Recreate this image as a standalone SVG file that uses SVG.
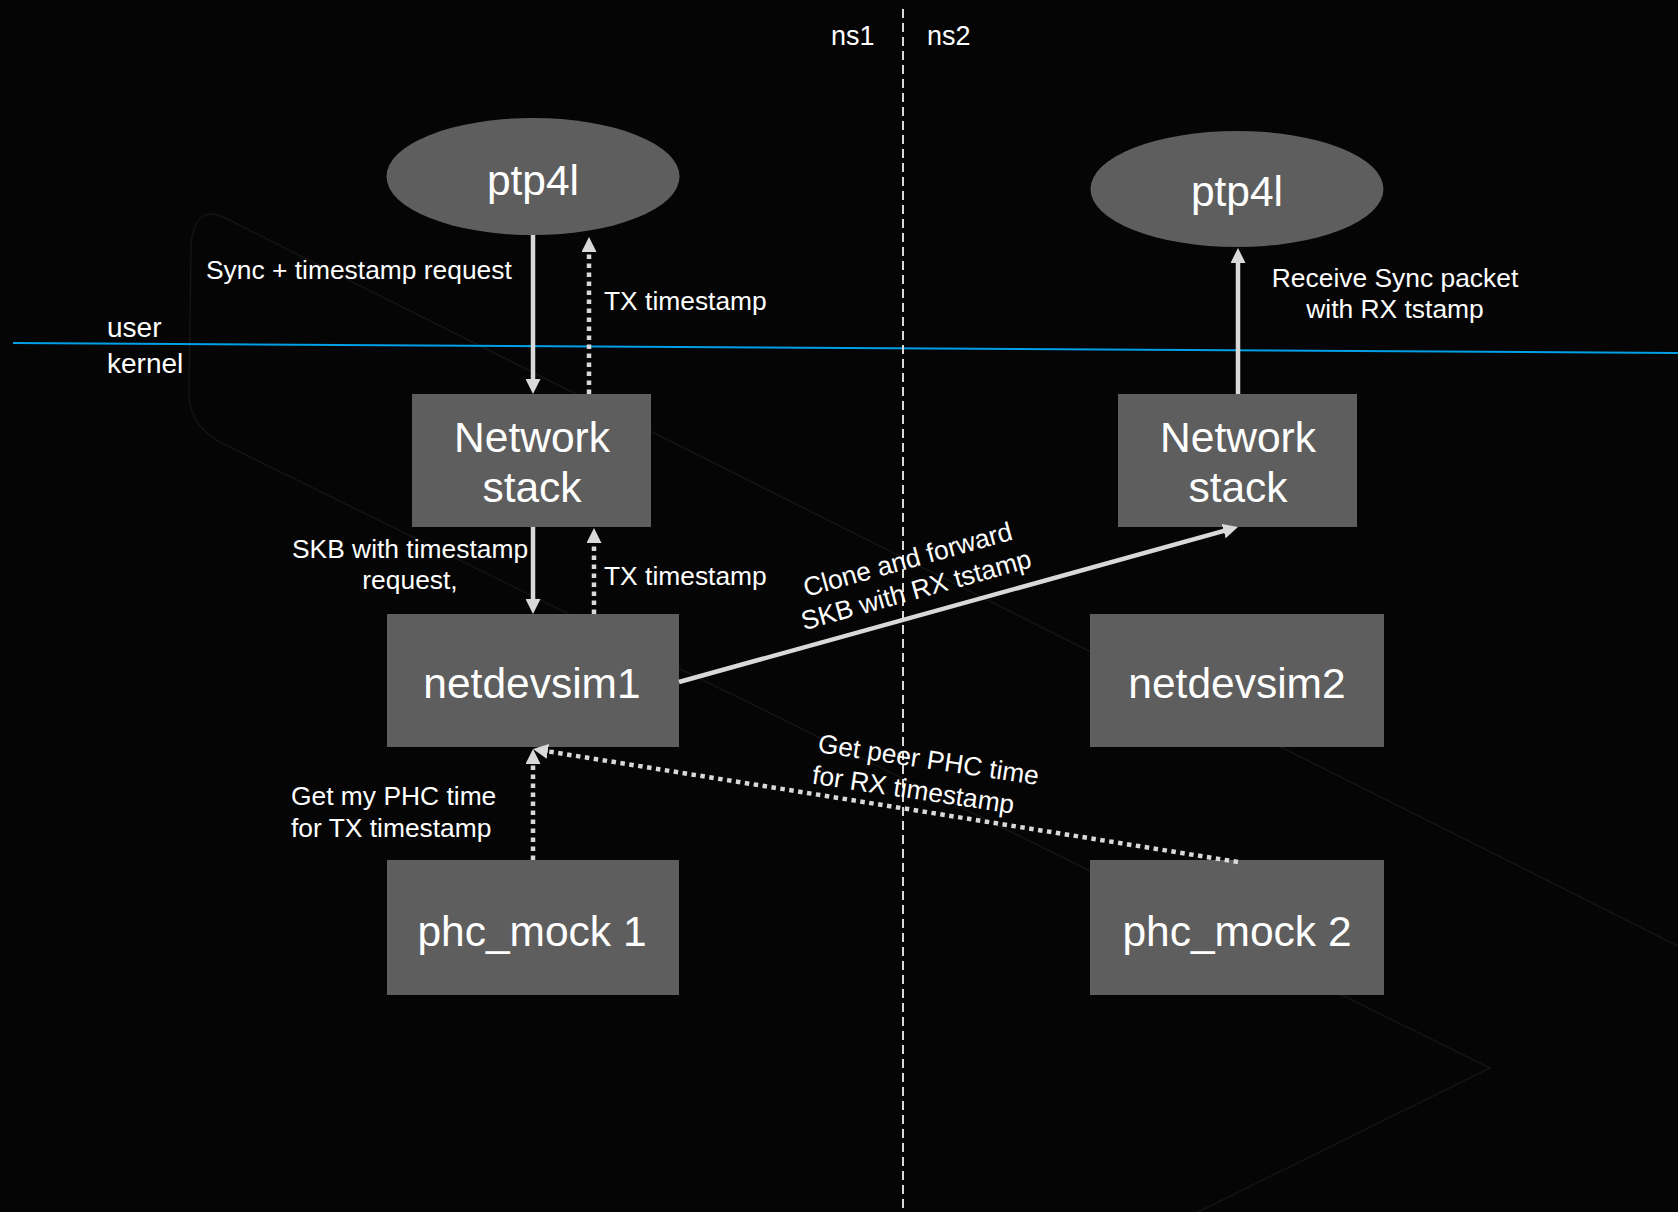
<svg xmlns="http://www.w3.org/2000/svg" width="1678" height="1212" viewBox="0 0 1678 1212">
  <style>
    text { font-family: "Liberation Sans", Arial, Helvetica, sans-serif; fill: #ffffff; }
    .node { fill: #5e5e5e; }
    .big { font-size: 42.5px; text-anchor: middle; }
    .lbl { font-size: 26.4px; }
    .mid { text-anchor: middle; }
    .solid { stroke: #d9d9d9; stroke-width: 4.5; fill: none; }
    .dot { stroke: #d9d9d9; stroke-width: 4.5; fill: none; stroke-dasharray: 4.5 4.5; }
    .bg { stroke: #141414; stroke-width: 1.5; fill: none; }
  </style>
  <defs>
    <marker id="ah" viewBox="0 0 15 15" markerUnits="userSpaceOnUse" markerWidth="15" markerHeight="15" refX="5" refY="7.5" orient="auto">
      <path d="M0,0 L15,7.5 L0,15 z" fill="#d9d9d9"/>
    </marker>
  </defs>

  <rect x="0" y="0" width="1678" height="1212" fill="#050505"/>

  <g id="background">
    <path class="bg" d="M1678,946 L225,218 Q195,203 191,245 L189,395 Q190,430 230,447 L1490,1068 L1198,1212"/>
  </g>

  <g id="dividers">
    <line x1="13" y1="343" x2="1678" y2="353" stroke="#00a0e6" stroke-width="2"/>
    <line x1="903" y1="9" x2="903" y2="1212" stroke="#d9d9d9" stroke-width="2" stroke-dasharray="9 5"/>
  </g>

  <g id="region-labels">
    <text x="831" y="45" style="font-size:27px">ns1</text>
    <text x="927" y="45" style="font-size:27px">ns2</text>
    <text x="107" y="337" style="font-size:28px">user</text>
    <text x="107" y="373" style="font-size:28px">kernel</text>
  </g>

  <g id="ptp4l-1">
    <ellipse class="node" cx="533" cy="176.5" rx="146.5" ry="58.5"/>
    <text class="big" x="533" y="195">ptp4l</text>
  </g>
  <g id="ptp4l-2">
    <ellipse class="node" cx="1237" cy="189" rx="146.5" ry="58"/>
    <text class="big" x="1237" y="206">ptp4l</text>
  </g>
  <g id="netstack-1">
    <rect class="node" x="412" y="394" width="239" height="133"/>
    <text class="big" x="532" y="452">Network</text>
    <text class="big" x="532" y="502">stack</text>
  </g>
  <g id="netstack-2">
    <rect class="node" x="1118" y="394" width="239" height="133"/>
    <text class="big" x="1238" y="452">Network</text>
    <text class="big" x="1238" y="502">stack</text>
  </g>
  <g id="netdevsim1">
    <rect class="node" x="387" y="614" width="292" height="133"/>
    <text class="big" x="532" y="698">netdevsim1</text>
  </g>
  <g id="netdevsim2">
    <rect class="node" x="1090" y="614" width="294" height="133"/>
    <text class="big" x="1237" y="698">netdevsim2</text>
  </g>
  <g id="phc_mock1">
    <rect class="node" x="387" y="860" width="292" height="135"/>
    <text class="big" x="532" y="946">phc_mock 1</text>
  </g>
  <g id="phc_mock2">
    <rect class="node" x="1090" y="860" width="294" height="135"/>
    <text class="big" x="1237" y="946">phc_mock 2</text>
  </g>

  <g id="connectors">
    <path class="solid" d="M533,235 L533,384" marker-end="url(#ah)"/>
    <path class="dot" d="M589,394 L589,247" marker-end="url(#ah)"/>
    <path class="solid" d="M533,527 L533,604" marker-end="url(#ah)"/>
    <path class="dot" d="M594,614 L594,538" marker-end="url(#ah)"/>
    <path class="solid" d="M679,682 L1228.4,529.7" marker-end="url(#ah)"/>
    <path class="dot" d="M1238,862 L542.9,750.6" marker-end="url(#ah)"/>
    <path class="dot" d="M533,860 L533,759" marker-end="url(#ah)"/>
    <path class="solid" d="M1238,394 L1238,258" marker-end="url(#ah)"/>
  </g>

  <g id="connector-labels">
    <text class="lbl" x="206" y="279">Sync + timestamp request</text>
    <text class="lbl" x="604" y="310">TX timestamp</text>
    <text class="lbl mid" x="410" y="558">SKB with timestamp</text>
    <text class="lbl mid" x="410" y="589">request,</text>
    <text class="lbl" x="604" y="585">TX timestamp</text>
    <text class="lbl" x="291" y="805">Get my PHC time</text>
    <text class="lbl" x="291" y="837">for TX timestamp</text>
    <text class="lbl mid" x="1395" y="287">Receive Sync packet</text>
    <text class="lbl mid" x="1395" y="318">with RX tstamp</text>
    <g transform="translate(806,597) rotate(-15.5)">
      <text class="lbl mid" x="108" y="0">Clone and forward</text>
      <text class="lbl mid" x="108" y="31.5">SKB with RX tstamp</text>
    </g>
    <g transform="translate(817,752) rotate(8.5)">
      <text class="lbl" x="0" y="0">Get peer PHC time</text>
      <text class="lbl" x="-1" y="32">for RX timestamp</text>
    </g>
  </g>
</svg>
